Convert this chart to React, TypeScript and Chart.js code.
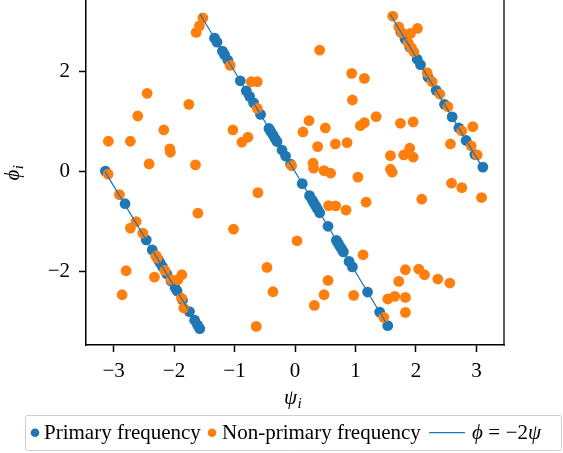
import React, { useEffect, useRef } from "react";
import { Chart, registerables } from "chart.js";

Chart.register(...registerables);

const PI = Math.PI;

// Tick values
const X_TICKS = [-3, -2, -1, 0, 1, 2, 3];
const Y_TICKS = [-2, 0, 2];

// Axis labels / legend labels
const X_TITLE = ["ψ", "i"];
const Y_TITLE = ["ϕ", "i"];
const SERIES_LABELS = ["Primary frequency", "Non-primary frequency", "ϕ = −2ψ"];

// Primary frequency (blue) points
const primaryPsi = [
  -3.135, -2.81, -2.46, -2.36, -2.3, -2.26, -2.23, -2.19, -2.12, -2.05, -1.98, -1.95, -1.86, -1.745, -1.66, -1.61, -1.575,
  -1.33, -1.29, -1.2, -1.165, -1.11, -0.905, -0.806, -0.751, -0.685, -0.57, -0.43, -0.4, -0.364, -0.33, -0.298, -0.215, -0.156, -0.073,
  0.12, 0.24, 0.286, 0.31, 0.341, 0.37, 0.408, 0.546, 0.684, 0.71, 0.738, 0.77, 0.8, 0.894, 0.949, 1.2, 1.4, 1.533,
  1.75, 1.82, 1.9, 2.02, 2.075, 2.2, 2.334, 2.472, 2.599, 2.709, 2.83, 2.974, 3.106,
];
const primaryPhi = [
  0.01, -0.64, -1.36, -1.56, -1.68, -1.76, -1.82, -1.9, -2.04, -2.18, -2.32, -2.38, -2.56, -2.79, -2.96, -3.06, -3.13,
  2.66, 2.58, 2.4, 2.33, 2.22, 1.81, 1.61, 1.5, 1.37, 1.14, 0.86, 0.8, 0.73, 0.66, 0.6, 0.43, 0.31, 0.15,
  -0.24, -0.48, -0.57, -0.62, -0.68, -0.74, -0.82, -1.09, -1.37, -1.42, -1.48, -1.54, -1.6, -1.79, -1.9, -2.4, -2.8, -3.07,
  2.78, 2.64, 2.48, 2.24, 2.13, 1.88, 1.62, 1.34, 1.09, 0.87, 0.62, 0.34, 0.09,
];

// Non-primary frequency (orange) points
const nonPrimaryPsi = [
  -1.523, -1.58, -1.634, -2.445, -1.755, -2.6, -2.169, -3.086, -2.722, -2.07, -2.06, -2.412, -1.646, -3.09,
  -2.904, -1.606, -2.627, -2.722, -2.517, -2.296, -2.28, -2.793, -2.152, -2.324, -2.048, -1.937, -1.871, -2.859, -1.877, -1.838,
  -1.071, -0.723, -0.624, -0.624, -0.056, -1.027, -0.878, -0.778,
  0.408, 0.937, 1.147, 0.949, 0.232, 0.132, 0.502, 1.081, 1.147, 0.374, 0.667, 0.861, 0.298, 0.308, 0.48, 0.589, 1.04,
  1.341, 1.743, 1.954, 1.578, 1.798, 1.897, 1.954, 1.578, 1.606, 2.571, 2.94, 2.588, 2.758, 3.085, 2.096, 1.175, 0.556, 0.672, 0.844,
  1.616, 1.715, 1.771, 1.909, 2.025, 1.871, 1.925, 1.964, 2.185, 2.268, 2.394, 2.527, 2.758, 2.914, 3.013,
  -0.613, -1.017, 0.033, -0.464, -0.364, -0.641, 0.546, 0.48, 0.32, 0.97, 1.126,
  1.467, 1.826, 1.715, 1.533, 1.649, 1.826, 1.826, 2.046, 2.141, 2.361, 2.56,
];
const nonPrimaryPhi = [
  3.065, 2.905, 2.774, 1.56, 1.341, 1.108, 0.83, 0.605, 0.605, 0.452, 0.386, 0.153, 0.133, -0.05,
  -0.458, -0.828, -0.995, -1.127, -1.226, -1.678, -1.724, -1.976, -1.97, -2.102, -2.155, -2.155, -2.056, -2.454, -2.52, -2.719,
  2.117, 1.791, 1.791, 1.261, 0.119, 0.83, 0.585, 0.685,
  2.422, 1.958, 1.858, 1.427, 1.015, 0.79, 0.87, 0.915, 0.975, 0.498, 0.551, 0.577, 0.167, 0.068, 0.02, -0.032, -0.11,
  1.095, 0.963, 0.989, 0.318, 0.332, 0.466, 0.287, 0.048, -0.012, 0.551, 0.896, -0.231, -0.318, -0.517, -0.55, -0.609, -0.677, -0.683, -0.768,
  3.098, 2.886, 2.766, 2.754, 2.853, 2.567, 2.468, 2.388, 1.97, 1.791, 1.546, 1.294, 0.81, 0.511, 0.332,
  -0.418, -1.147, -1.379, -1.91, -2.394, -3.085, -2.169, -2.454, -2.667, -2.468, -1.658,
  -2.905, -1.956, -2.189, -2.539, -2.488, -2.507, -2.806, -1.942, -2.056, -2.141, -2.221,
];

// Reference line phi = -2 psi (wrapped), segment endpoints; null = break
const linePsi = [-PI, -PI / 2, -PI / 2, -PI / 2, PI / 2, PI / 2, PI / 2, PI];
const linePhi: (number | null)[] = [0, -PI, null, PI, -PI, null, PI, 0];

const BLUE = "#1f77b4";
const ORANGE = "#ff7f0e";
const SERIF = "'Liberation Serif', 'DejaVu Serif', serif";

const fmtTick = (v: number) => (v < 0 ? "\u2212" + Math.abs(v) : String(v));

const framePlugin = {
  id: "framePlugin",
  afterDraw(chart: any) {
    const { ctx, chartArea } = chart;
    const ds = chart.data.datasets;
    ctx.save();
    // right spine
    ctx.strokeStyle = "#222";
    ctx.lineWidth = 1.5;
    ctx.beginPath();
    ctx.moveTo(chartArea.right, chartArea.top);
    ctx.lineTo(chartArea.right, chartArea.bottom + 0.75);
    ctx.stroke();

    // axis titles
    ctx.fillStyle = "#000";
    ctx.textBaseline = "alphabetic";
    ctx.textAlign = "left";
    ctx.font = `italic 21px ${SERIF}`;
    const xw = ctx.measureText(X_TITLE[0]).width;
    const xStart = (chartArea.left + chartArea.right) / 2 - 11;
    ctx.fillText(X_TITLE[0], xStart, 404);
    ctx.font = `italic 15px ${SERIF}`;
    ctx.fillText(X_TITLE[1], xStart + xw + 0.5, 408);

    ctx.save();
    ctx.translate(19, (chartArea.top + chartArea.bottom) / 2 + 8);
    ctx.rotate(-Math.PI / 2);
    ctx.font = `italic 21px ${SERIF}`;
    const yw = ctx.measureText(Y_TITLE[0]).width;
    ctx.fillText(Y_TITLE[0], 0, 0);
    ctx.font = `italic 15px ${SERIF}`;
    ctx.fillText(Y_TITLE[1], yw + 0.5, 4);
    ctx.restore();

    // legend frame
    ctx.strokeStyle = "#cfcfcf";
    ctx.lineWidth = 1;
    ctx.beginPath();
    ctx.roundRect(25.5, 415.5, 536, 35, 2);
    ctx.stroke();

    const cy = 432.7;
    const base = 439;
    ctx.font = `21px ${SERIF}`;
    // item 1
    ctx.fillStyle = ds[0].backgroundColor;
    ctx.beginPath();
    ctx.arc(35, cy, 4.3, 0, Math.PI * 2);
    ctx.fill();
    ctx.fillStyle = "#000";
    ctx.fillText(ds[0].label, 44, base);
    // item 2
    ctx.fillStyle = ds[1].backgroundColor;
    ctx.beginPath();
    ctx.arc(212, cy, 4.3, 0, Math.PI * 2);
    ctx.fill();
    ctx.fillStyle = "#000";
    ctx.fillText(ds[1].label, 222, base);
    // item 3
    ctx.strokeStyle = ds[2].borderColor;
    ctx.lineWidth = 1.3;
    ctx.beginPath();
    ctx.moveTo(429, cy);
    ctx.lineTo(465, cy);
    ctx.stroke();
    ctx.fillStyle = "#000";
    let x = 472;
    const label: string = ds[2].label;
    for (const ch of label) {
      const greek = /[\u0370-\u03FF]/.test(ch);
      if (ch === " ") {
        x += 5.5;
        continue;
      }
      ctx.font = greek ? `italic 21px ${SERIF}` : `21px ${SERIF}`;
      ctx.fillText(ch, x, base);
      x += ctx.measureText(ch).width;
    }
    ctx.restore();
  },
};

export default function App() {
  const canvasRef = useRef<HTMLCanvasElement | null>(null);

  useEffect(() => {
    if (!canvasRef.current) return;
    const primary = primaryPsi.map((x, i) => ({ x, y: primaryPhi[i] }));
    const nonPrimary = nonPrimaryPsi.map((x, i) => ({ x, y: nonPrimaryPhi[i] }));
    const line = linePsi.map((x, i) => ({ x, y: linePhi[i] }));

    const tickFont = { family: SERIF, size: 21 };

    const chart = new Chart(canvasRef.current, {
      type: "scatter",
      data: {
        datasets: [
          {
            label: SERIES_LABELS[0],
            data: primary,
            backgroundColor: BLUE,
            borderColor: BLUE,
            borderWidth: 0,
            pointRadius: 5.4,
            order: 3,
          },
          {
            label: SERIES_LABELS[1],
            data: nonPrimary,
            backgroundColor: ORANGE,
            borderColor: ORANGE,
            borderWidth: 0,
            pointRadius: 5.4,
            order: 2,
          },
          {
            type: "line",
            label: SERIES_LABELS[2],
            data: line as any,
            showLine: true,
            spanGaps: false,
            borderColor: BLUE,
            backgroundColor: BLUE,
            borderWidth: 1.3,
            pointRadius: 0,
            fill: false,
            order: 1,
          } as any,
        ],
      },
      options: {
        animation: false,
        responsive: false,
        maintainAspectRatio: false,
        layout: { autoPadding: false, padding: { left: 0, right: 59, top: 0, bottom: 0 } },
        plugins: {
          legend: { display: false },
          tooltip: { enabled: false },
        },
        scales: {
          x: {
            type: "linear",
            min: -1.1 * PI,
            max: 1.1 * PI,
            afterBuildTicks: (s: any) => {
              s.ticks = X_TICKS.map((v) => ({ value: v }));
            },
            afterFit: (s: any) => {
              s.height = 108;
              s.paddingLeft = 0;
              s.paddingRight = 0;
            },
            grid: {
              drawOnChartArea: false,
              drawTicks: true,
              tickLength: 7,
              tickWidth: 1.5,
              tickColor: "#000",
            },
            border: { display: true, color: "#000", width: 1.5 },
            ticks: {
              padding: 7,
              color: "#000",
              font: tickFont,
              maxRotation: 0,
              callback: (v: any) => fmtTick(Number(v)),
            },
          },
          y: {
            type: "linear",
            min: -1.1 * PI,
            max: 3.42,
            afterBuildTicks: (s: any) => {
              s.ticks = Y_TICKS.map((v) => ({ value: v }));
            },
            afterFit: (s: any) => {
              s.width = 86;
              s.paddingTop = 0;
              s.paddingBottom = 0;
            },
            grid: {
              drawOnChartArea: false,
              drawTicks: true,
              tickLength: 7,
              tickWidth: 1.5,
              tickColor: "#000",
            },
            border: { display: true, color: "#000", width: 1.5 },
            ticks: {
              padding: 9,
              color: "#000",
              font: tickFont,
              callback: (v: any) => fmtTick(Number(v)),
            },
          },
        },
      },
      plugins: [framePlugin],
    });
    return () => chart.destroy();
  }, []);

  return (
    <div style={{ position: "absolute", left: 0, top: 0, width: 563, height: 453, background: "#fff" }}>
      <canvas ref={canvasRef} width={563} height={453} style={{ display: "block", width: 563, height: 453 }} />
    </div>
  );
}
